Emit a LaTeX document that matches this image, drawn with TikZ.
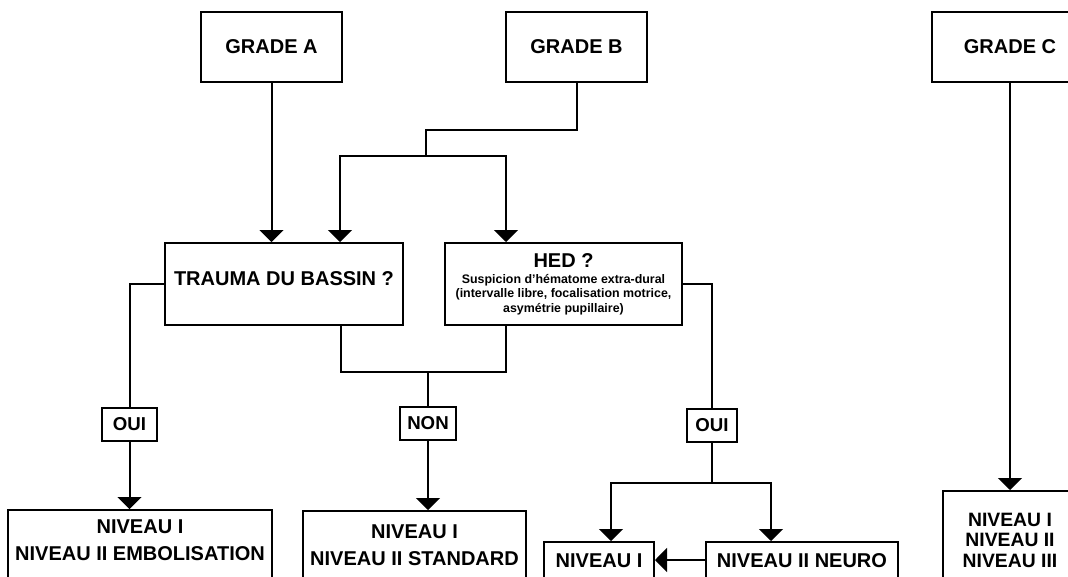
\documentclass[tikz,border=0pt]{standalone}
\usepackage{fontspec}
\setmainfont{Liberation Sans}
\usetikzlibrary{arrows.meta}

\begin{document}
\begin{tikzpicture}[x=0.75pt, y=-0.75pt,
	line width=1.5pt,
	boxed/.style={draw, rectangle, inner sep=0pt, align=center,
		font=\bfseries\fontsize{15}{20.25}\selectfont},
	gradebox/.style={boxed, minimum width=#1, minimum height=52.5pt},
	askbox/.style={boxed, minimum width=178pt, minimum height=61.5pt},
	answer/.style={boxed, minimum width=#1, minimum height=24.75pt,
		font=\bfseries\fontsize{14}{16}\selectfont},
	outcome/.style={boxed, anchor=north, minimum width=#1, text depth=60pt},
	arr/.style={-{Triangle[width=18pt, length=9pt]}}]
\path[use as bounding box, clip] (0,0) rectangle (1068,576);

\node[gradebox=105.75pt] (gradeA) at (271.5,47) {GRADE A};
\node[gradebox=105.75pt] (gradeB) at (576.5,47) {GRADE B};
\node[gradebox=117pt] (gradeC) at (1010,47) {GRADE C};

\node[askbox, text depth=7.5pt] (trauma) at (284,284) {TRAUMA DU BASSIN ?};
\node[askbox, font=\bfseries\fontsize{9.3}{10.9}\selectfont] (hed) at (563.5,284)
	{{\fontsize{15}{18}\selectfont HED ?}\\[1pt]
	Suspicion d'hématome extra-dural\\
	(intervalle libre, focalisation motrice,\\
	asymétrie pupillaire)};

\node[answer=41.25pt] (ouiA) at (129.5,424.5) {OUI};
\node[answer=42pt] (non) at (428,423.5) {NON};
\node[answer=37.5pt] (ouiB) at (712,425) {OUI};

\node[outcome=198pt, inner ysep=7.5pt] (nivA) at (140,509)
	{NIVEAU I\\NIVEAU II EMBOLISATION};
\node[outcome=167.25pt, inner ysep=10.5pt] (nivB) at (414.5,510)
	{NIVEAU I\\NIVEAU II STANDARD};
\node[outcome=82.5pt, inner ysep=9pt] (nivC) at (599,541) {NIVEAU I};
\node[outcome=144pt, inner ysep=9pt] (nivD) at (802,541) {NIVEAU II NEURO};
\node[outcome=100.5pt, inner ysep=16.5pt,
	font=\bfseries\fontsize{14.5}{15.5}\selectfont] (nivE) at (1010,490)
	{NIVEAU I\\NIVEAU II\\NIVEAU III};

\coordinate (bendB) at (426,130);
\coordinate (splitB) at (426,156);
\coordinate (joinN) at (428,372);
\coordinate (splitO) at (712,483);

\draw[arr] (gradeA) -- (gradeA |- trauma.north);
\draw (gradeB) |- (bendB) -- (splitB);
\draw[arr] (splitB) -| (340,0 |- trauma.north);
\draw[arr] (splitB) -| (506,0 |- hed.north);
\draw (trauma.west) -| (ouiA);
\draw[arr] (ouiA) -- (ouiA |- nivA.north);
\draw (341,0 |- trauma.south) |- (joinN) -| (506,0 |- hed.south);
\draw (joinN) -- (non);
\draw[arr] (non) -- (non |- nivB.north);
\draw (hed.east) -| (ouiB);
\draw (ouiB) -- (splitO);
\draw[arr] (splitO) -| (611,0 |- nivC.north);
\draw[arr] (splitO) -| (771,0 |- nivD.north);
\draw[arr] (nivD.west |- 0,560) -- (nivC.east |- 0,560);
\draw[arr] (gradeC) -- (gradeC |- nivE.north);
\end{tikzpicture}
\end{document}
